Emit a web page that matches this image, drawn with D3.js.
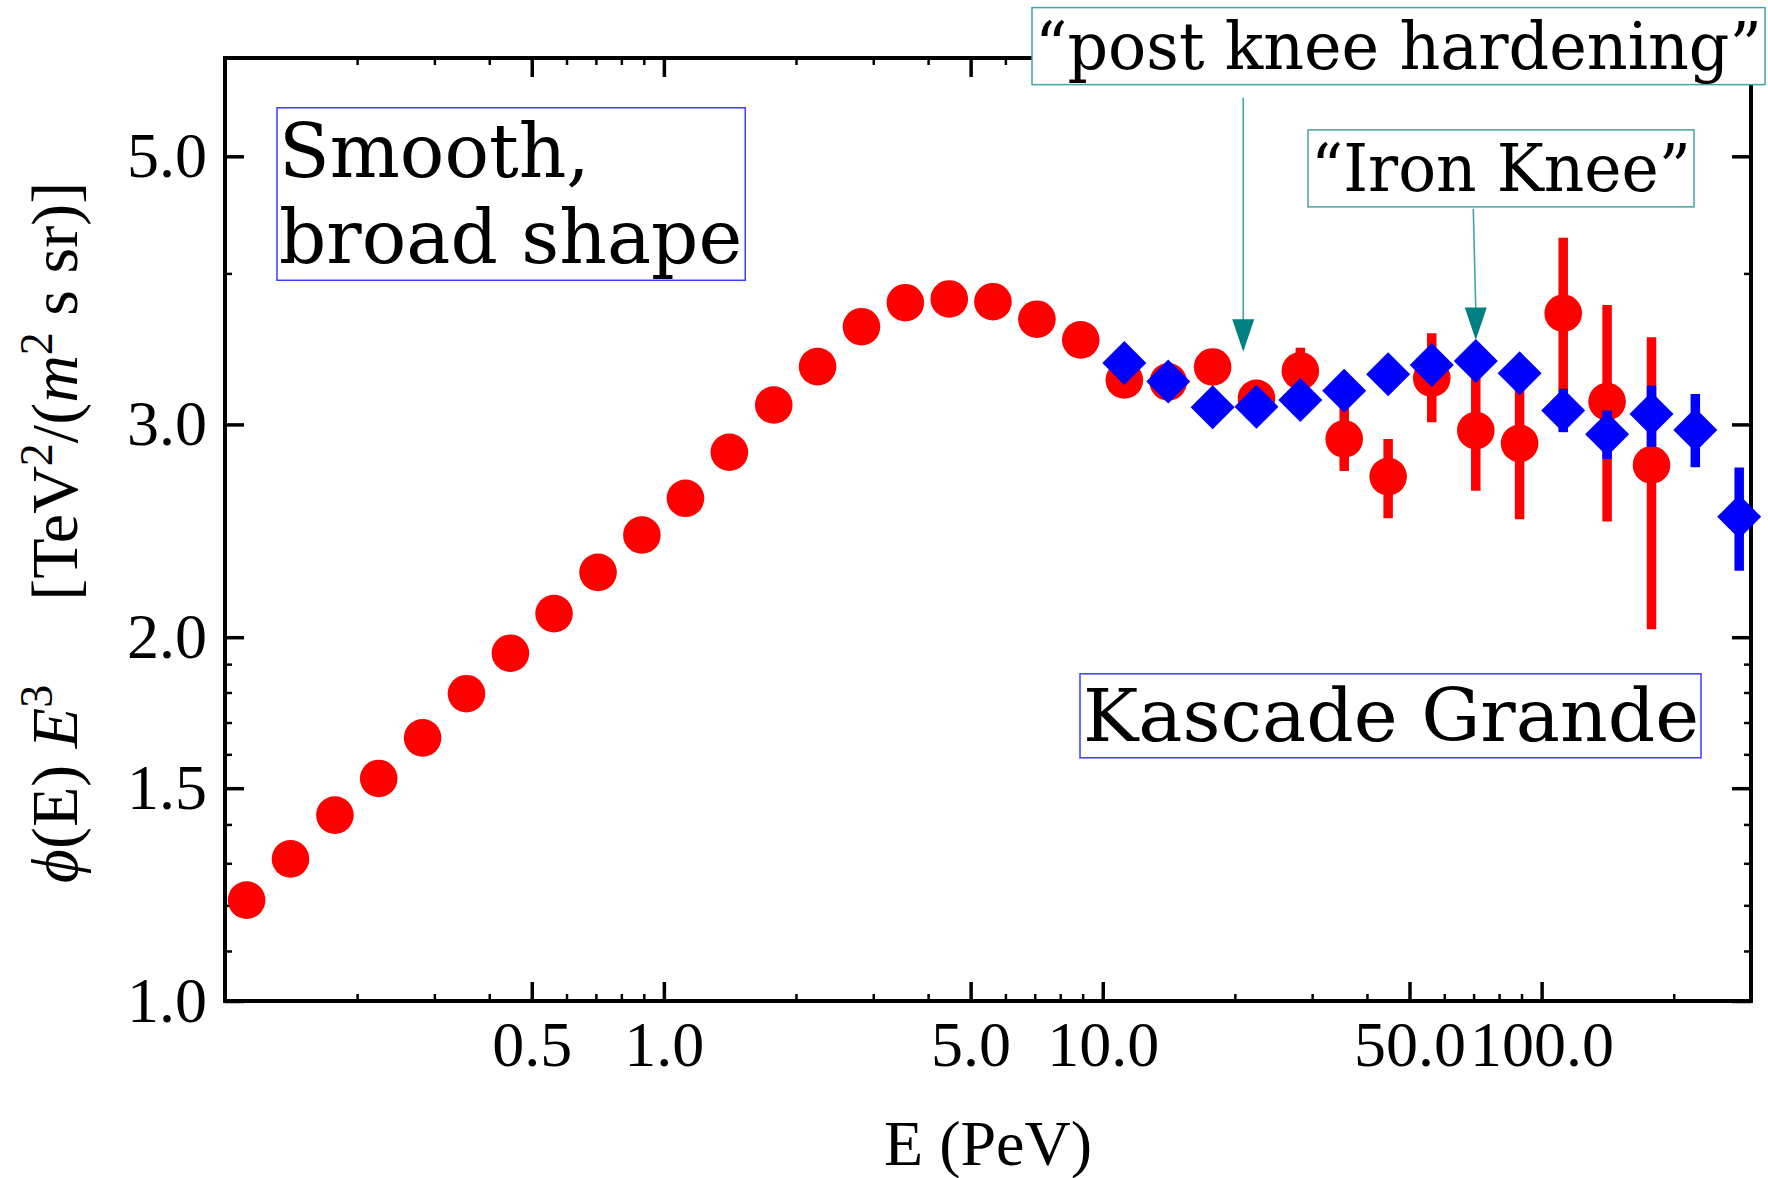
<!DOCTYPE html>
<html>
<head>
<meta charset="utf-8">
<script src="https://cdn.jsdelivr.net/npm/d3@7"></script>
<style>
  html, body { margin: 0; padding: 0; background: #fff; }
  svg { display: block; }
</style>
</head>
<body>
<svg id="chart" width="1768" height="1178"></svg>
<script>
// ---------------- data ----------------
const redEnergy = [0.112, 0.141, 0.178, 0.224, 0.282, 0.355, 0.447, 0.562, 0.708, 0.891,
                   1.12, 1.41, 1.78, 2.24, 2.82, 3.55, 4.47, 5.62, 7.08, 8.91,
                   11.2, 14.1, 17.8, 22.4, 28.2, 35.5, 44.7, 56.2, 70.8, 89.1,
                   112, 141, 178];
const redFlux = [1.212, 1.311, 1.425, 1.528, 1.651, 1.796, 1.940, 2.092, 2.263, 2.430,
                 2.606, 2.845, 3.113, 3.349, 3.614, 3.783, 3.810, 3.790, 3.666, 3.524,
                 3.265, 3.253, 3.347, 3.153, 3.322, 2.918, 2.716, 3.276, 2.965, 2.894,
                 3.708, 3.133, 2.777];
const redErrLow = [null, null, null, null, null, null, null, null, null, null,
                   null, null, null, null, null, null, null, null, null, null,
                   null, null, null, 3.044, 3.178, 2.745, 2.509, 3.012, 2.644, 2.504,
                   3.210, 2.493, 2.031];
const redErrHigh = [null, null, null, null, null, null, null, null, null, null,
                    null, null, null, null, null, null, null, null, null, null,
                    null, null, null, 3.265, 3.472, 3.101, 2.918, 3.569, 3.324, 3.345,
                    4.282, 3.767, 3.542];

const blueEnergy = [11.2, 14.1, 17.8, 22.4, 28.2, 35.5, 44.7, 56.2, 70.8, 89.1,
                    112, 141, 178, 224, 282];
const blueFlux = [3.373, 3.255, 3.100, 3.103, 3.143, 3.198, 3.301, 3.360, 3.386, 3.307,
                  3.080, 2.944, 3.060, 2.968, 2.516];
const blueErrLow = [null, null, null, null, null, null, null, null, null, null,
                    2.956, 2.809, 2.875, 2.765, 2.270];
const blueErrHigh = [null, null, null, null, null, null, null, null, null, null,
                     3.210, 3.080, 3.230, 3.179, 2.763];

const xMajorTicks = [0.5, 1, 5, 10, 50, 100];
const xMajorLabels = ["0.5", "1.0", "5.0", "10.0", "50.0", "100.0"];
const xMinorTicks = [0.2, 0.3, 0.4, 0.6, 0.7, 0.8, 0.9, 2, 3, 4, 6, 7, 8, 9,
                     20, 30, 40, 60, 70, 80, 90, 200];
const yMajorTicks = [1, 1.5, 2, 3, 5];
const yMajorLabels = ["1.0", "1.5", "2.0", "3.0", "5.0"];
const yMinorTicks = [1.1, 1.2, 1.3, 1.4, 1.6, 1.7, 1.8, 1.9, 4];

const xLabel = "E (PeV)";
const notes = ["Smooth,", "broad shape"];
const noteKascade = "Kascade Grande";
const notePostKnee = "\u201Cpost knee hardening\u201D";
const noteIronKnee = "\u201CIron Knee\u201D";
// arrow tips, in data coordinates (E, flux)
const arrowTipE = [20.9, 70.8];
const arrowTipFlux = [3.446, 3.524];

// ---------------- layout ----------------
const L = 225, R = 1751, T = 58, B = 1001;
const svg = d3.select("#chart");
const x = d3.scaleLog().domain([0.1, 300]).range([L, R]);
const y = d3.scaleLog().domain([1, 6.03]).range([B, T]);

const serif = "'Liberation Serif', 'Times New Roman', serif";
const dejavu = "'DejaVu Serif', serif";
const tickFont = 64;

// ---------------- axes ----------------
function styleAxis(g, w) {
  g.select(".domain").remove();
  g.selectAll(".tick line").attr("stroke", "#000").attr("stroke-width", w);
  g.selectAll(".tick text").attr("fill", "#000")
    .style("font-family", serif).style("font-size", tickFont + "px");
}
const MAJ = 19, MIN = 7;

// bottom
svg.append("g").attr("transform", `translate(0,${B})`)
  .call(d3.axisBottom(x).tickValues(xMajorTicks).tickSize(-MAJ).tickSizeOuter(0)
    .tickPadding(20).tickFormat((d, i) => xMajorLabels[i]))
  .call(g => styleAxis(g, 3.5));
svg.append("g").attr("transform", `translate(0,${B})`)
  .call(d3.axisBottom(x).tickValues(xMinorTicks).tickSize(-MIN).tickSizeOuter(0).tickFormat(""))
  .call(g => styleAxis(g, 2.5));
// top
svg.append("g").attr("transform", `translate(0,${T})`)
  .call(d3.axisTop(x).tickValues(xMajorTicks).tickSize(-MAJ).tickSizeOuter(0).tickFormat(""))
  .call(g => styleAxis(g, 3.5));
svg.append("g").attr("transform", `translate(0,${T})`)
  .call(d3.axisTop(x).tickValues(xMinorTicks).tickSize(-MIN).tickSizeOuter(0).tickFormat(""))
  .call(g => styleAxis(g, 2.5));
// left
svg.append("g").attr("transform", `translate(${L},0)`)
  .call(d3.axisLeft(y).tickValues(yMajorTicks).tickSize(-MAJ).tickSizeOuter(0)
    .tickPadding(18).tickFormat((d, i) => yMajorLabels[i]))
  .call(g => styleAxis(g, 3.5));
svg.append("g").attr("transform", `translate(${L},0)`)
  .call(d3.axisLeft(y).tickValues(yMinorTicks).tickSize(-MIN).tickSizeOuter(0).tickFormat(""))
  .call(g => styleAxis(g, 2.5));
// right
svg.append("g").attr("transform", `translate(${R},0)`)
  .call(d3.axisRight(y).tickValues(yMajorTicks).tickSize(-MAJ).tickSizeOuter(0).tickFormat(""))
  .call(g => styleAxis(g, 3.5));
svg.append("g").attr("transform", `translate(${R},0)`)
  .call(d3.axisRight(y).tickValues(yMinorTicks).tickSize(-MIN).tickSizeOuter(0).tickFormat(""))
  .call(g => styleAxis(g, 2.5));

// frame
svg.append("rect").attr("x", L).attr("y", T).attr("width", R - L).attr("height", B - T)
  .attr("fill", "none").attr("stroke", "#000").attr("stroke-width", 4);

// axis titles
svg.append("text").attr("x", (L + R) / 2).attr("y", 1165)
  .attr("text-anchor", "middle").style("font-family", serif).style("font-size", "64px")
  .attr("fill", "#000").text(xLabel);

const yl = svg.append("text")
  .attr("transform", `translate(77,${(T + B) / 2 + 3}) rotate(-90)`)
  .attr("text-anchor", "middle").style("font-family", serif).style("font-size", "66px")
  .attr("fill", "#000");
yl.append("tspan").style("font-style", "italic").text("\u03D5");
yl.append("tspan").text("(E) ");
yl.append("tspan").style("font-style", "italic").text("E");
yl.append("tspan").attr("dy", -25).style("font-size", "46px").text("3");
yl.append("tspan").attr("dy", 25).attr("dx", 84).text("[TeV");
yl.append("tspan").attr("dy", -25).style("font-size", "46px").text("2");
yl.append("tspan").attr("dy", 25).text("/(");
yl.append("tspan").style("font-style", "italic").text("m");
yl.append("tspan").attr("dy", -25).style("font-size", "46px").text("2");
yl.append("tspan").attr("dy", 25).text("\u00A0s sr)]");

// ---------------- data marks ----------------
const red = redEnergy.map((e, i) => ({ e, v: redFlux[i], lo: redErrLow[i], hi: redErrHigh[i] }));
const blue = blueEnergy.map((e, i) => ({ e, v: blueFlux[i], lo: blueErrLow[i], hi: blueErrHigh[i] }));

svg.append("g").selectAll("line").data(red.filter(d => d.lo != null)).join("line")
  .attr("x1", d => x(d.e)).attr("x2", d => x(d.e))
  .attr("y1", d => y(d.lo)).attr("y2", d => y(d.hi))
  .attr("stroke", "#ff0000").attr("stroke-width", 9.5);
svg.append("g").selectAll("circle").data(red).join("circle")
  .attr("cx", d => x(d.e)).attr("cy", d => y(d.v)).attr("r", 18.8)
  .attr("fill", "#ff0000");

svg.append("g").selectAll("line").data(blue.filter(d => d.lo != null)).join("line")
  .attr("x1", d => x(d.e)).attr("x2", d => x(d.e))
  .attr("y1", d => y(d.lo)).attr("y2", d => y(d.hi))
  .attr("stroke", "#0000ff").attr("stroke-width", 9.5);
const dh = 22;
svg.append("g").selectAll("path").data(blue).join("path")
  .attr("transform", d => `translate(${x(d.e)},${y(d.v)})`)
  .attr("d", `M0,${-dh}L${dh},0L0,${dh}L${-dh},0Z`)
  .attr("fill", "#0000ff");

// ---------------- annotations ----------------
function boxedText(lines, xPos, baselines, size, stroke, padL, padR, len) {
  const g = svg.append("g");
  const rect = g.append("rect");
  const t = g.append("text").style("font-family", dejavu).style("font-size", size + "px")
    .attr("fill", "#000");
  lines.forEach((s, i) => {
    const ts = t.append("tspan").attr("x", xPos).attr("y", baselines[i]).text(s);
    if (len) ts.attr("textLength", len).attr("lengthAdjust", "spacingAndGlyphs");
  });
  const bb = t.node().getBBox();
  rect.attr("x", bb.x - padL).attr("y", bb.y).attr("width", bb.width + padL + padR)
    .attr("height", bb.height).attr("fill", "#fff")
    .attr("stroke", stroke).attr("stroke-width", 1.5);
}
const blueBox = "#3c3cff", tealBox = "#45a3a3", teal = "#008080";

boxedText(notes, 279, [176.8, 263.3], 74, blueBox, 2, 3);
boxedText([noteKascade], 1083, [740.8], 72, blueBox, 3, 2, 616);

// arrows (drawn before boxes so boxes sit on top)
const arrowLen = [254, 131];
const arrowSlant = [0, -2.5];
arrowTipE.forEach((e, i) => {
  const tx = x(e), ty = y(arrowTipFlux[i]);
  svg.append("line")
    .attr("x1", tx + arrowSlant[i]).attr("y1", ty - arrowLen[i])
    .attr("x2", tx).attr("y2", ty - 30)
    .attr("stroke", tealBox).attr("stroke-width", 1.6);
  svg.append("path")
    .attr("d", `M${tx - 11},${ty - 32.5}L${tx + 11},${ty - 32.5}L${tx},${ty}Z`)
    .attr("fill", teal);
});

boxedText([notePostKnee], 1035, [68.6], 66, tealBox, 3, 3, 727);
boxedText([noteIronKnee], 1311, [190.9], 66, tealBox, 3, 3, 380);
</script>
</body>
</html>
